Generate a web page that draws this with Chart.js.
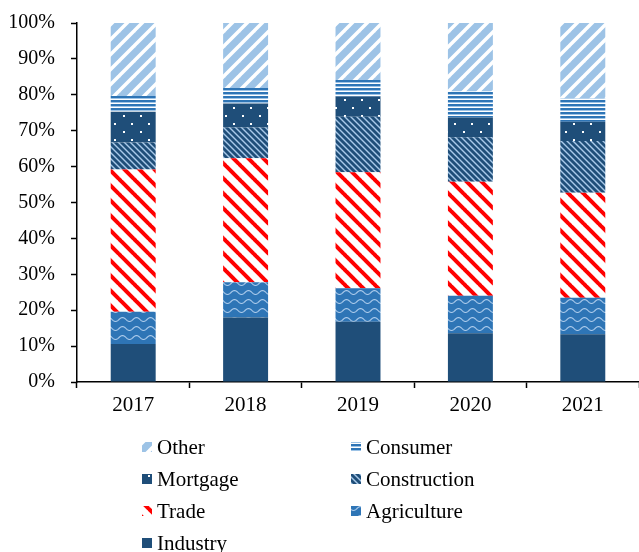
<!DOCTYPE html>
<html>
<head>
<meta charset="utf-8">
<script src="https://cdn.jsdelivr.net/npm/chart.js@4.4.1/dist/chart.umd.min.js"></script>
<style>
  body { margin: 0; background: #fff; }
  #wrap { position: absolute; left: 0; top: 0; width: 639px; height: 552px; }
</style>
</head>
<body>
<div id="wrap"><canvas id="loanChart"></canvas></div>
<script>
const years = ['2017', '2018', '2019', '2020', '2021'];
const industry = [10.6, 18.0, 16.8, 13.6, 13.3];
const agriculture = [9.0, 9.8, 9.3, 10.4, 10.2];
const trade = [39.6, 34.5, 32.3, 31.8, 29.2];
const construction = [7.5, 8.6, 15.5, 12.4, 14.4];
const mortgage = [8.6, 6.7, 5.6, 5.5, 5.4];
const consumer = [4.4, 4.3, 4.6, 7.2, 6.5];
const other = [20.3, 18.1, 15.9, 19.1, 21.0];
const yTicks = [0, 10, 20, 30, 40, 50, 60, 70, 80, 90, 100];

const FONT = '"Liberation Serif", "Times New Roman", serif';

/* =========================
   pattern tiles
========================= */
function tile(w, h, draw) {
    const c = document.createElement('canvas');
    c.width = w; c.height = h;
    const g = c.getContext('2d');
    draw(g, w, h);
    return g.createPattern(c, 'repeat');
}

function diag(g, s, dir, color, lw) {
    g.strokeStyle = color;
    g.lineWidth = lw;
    for (let k = -1; k <= 1; k++) {
        g.beginPath();
        if (dir === '/') {
            g.moveTo(k * s - 1, s + 1);
            g.lineTo(k * s + s + 1, -1);
        } else {
            g.moveTo(k * s - 1, -1);
            g.lineTo(k * s + s + 1, s + 1);
        }
        g.stroke();
    }
}

const pSolid = '#1f4e79';

const pAgri = tile(14, 9, (g, w, h) => {
    g.fillStyle = '#2e75b6'; g.fillRect(0, 0, w, h);
    g.strokeStyle = '#a9c9ea'; g.lineWidth = 1.2;
    g.beginPath();
    for (let x = 0; x <= w; x += 0.5) {
        const y = 4.5 + 2 * Math.sin(2 * Math.PI * x / w);
        if (x === 0) g.moveTo(x, y); else g.lineTo(x, y);
    }
    g.stroke();
});

const pTrade = tile(15, 15, (g, w) => {
    g.fillStyle = '#ffffff'; g.fillRect(0, 0, w, w);
    diag(g, w, '\\', '#ff0000', 4);
});

const pConstr = tile(6, 6, (g, w) => {
    g.fillStyle = '#1f4e79'; g.fillRect(0, 0, w, w);
    diag(g, w, '\\', '#a9c9ea', 1.4);
});

const pMort = tile(17, 16, (g, w, h) => {
    g.fillStyle = '#1f4e79'; g.fillRect(0, 0, w, h);
    g.fillStyle = '#ffffff';
    g.fillRect(4, 3, 2, 2);
    g.fillRect(12, 11, 2, 2);
});

const pCons = tile(4, 4, (g) => {
    g.fillStyle = '#ffffff'; g.fillRect(0, 0, 4, 4);
    g.fillStyle = '#2e75b6'; g.fillRect(0, 0, 4, 2);
    g.fillStyle = '#9dc3e6'; g.fillRect(0, 2, 4, 1);
});

const pOther = tile(15, 15, (g, w) => {
    g.fillStyle = '#9dc3e6'; g.fillRect(0, 0, w, w);
    diag(g, w, '/', '#ffffff', 3.5);
});

/* =========================
   legend drawn below the axis, two columns
========================= */
const legendOrder = [6, 5, 4, 3, 2, 1, 0];
const legendPlugin = {
    id: 'twoColLegend',
    afterDraw(chart) {
        const ctx = chart.ctx;
        ctx.save();
        ctx.font = '21px ' + FONT;
        ctx.textBaseline = 'middle';
        legendOrder.forEach((di, i) => {
            const ds = chart.data.datasets[di];
            const col = i % 2, row = Math.floor(i / 2);
            const x = col === 0 ? 142 : 351;
            const y = 447 + row * 32;
            ctx.fillStyle = ds.backgroundColor;
            ctx.fillRect(x, y - 5, 10, 10);
            ctx.fillStyle = '#000';
            ctx.fillText(ds.label, x + 15, y + 1);
        });
        ctx.restore();
    }
};

new Chart(document.getElementById('loanChart'), {
    type: 'bar',
    data: {
        labels: years,
        datasets: [
            { label: 'Industry', data: industry, backgroundColor: pSolid },
            { label: 'Agriculture', data: agriculture, backgroundColor: pAgri },
            { label: 'Trade', data: trade, backgroundColor: pTrade },
            { label: 'Construction', data: construction, backgroundColor: pConstr },
            { label: 'Mortgage', data: mortgage, backgroundColor: pMort },
            { label: 'Consumer', data: consumer, backgroundColor: pCons },
            { label: 'Other', data: other, backgroundColor: pOther }
        ]
    },
    options: {
        responsive: true,
        maintainAspectRatio: false,
        animation: false,
        layout: { padding: { top: 23, right: 0, left: 0, bottom: 0 } },
        datasets: { bar: { categoryPercentage: 1, barPercentage: 0.4, borderWidth: 0 } },
        plugins: {
            legend: { display: false },
            tooltip: { enabled: false }
        },
        scales: {
            x: {
                stacked: true,
                afterFit: s => { s.height = 170; s.paddingLeft = 0; s.paddingRight = 0; },
                border: { color: '#000', width: 1.5 },
                grid: { drawOnChartArea: false, drawTicks: true, tickLength: 6, tickColor: '#000', tickWidth: 1.5 },
                ticks: { color: '#000', font: { family: FONT, size: 21 }, padding: 5 }
            },
            y: {
                stacked: true,
                min: 0,
                max: 100,
                afterFit: s => { s.width = 77; s.paddingTop = 0; s.paddingBottom = 0; },
                afterBuildTicks: s => { s.ticks = yTicks.map(v => ({ value: v })); },
                border: { color: '#000', width: 1.5 },
                grid: { drawOnChartArea: false, drawTicks: true, tickLength: 6, tickColor: '#000', tickWidth: 1.5 },
                ticks: {
                    color: '#000',
                    font: { family: FONT, size: 20 },
                    padding: 16,
                    callback: v => v + '%'
                }
            }
        }
    },
    plugins: [legendPlugin]
});
</script>
</body>
</html>
